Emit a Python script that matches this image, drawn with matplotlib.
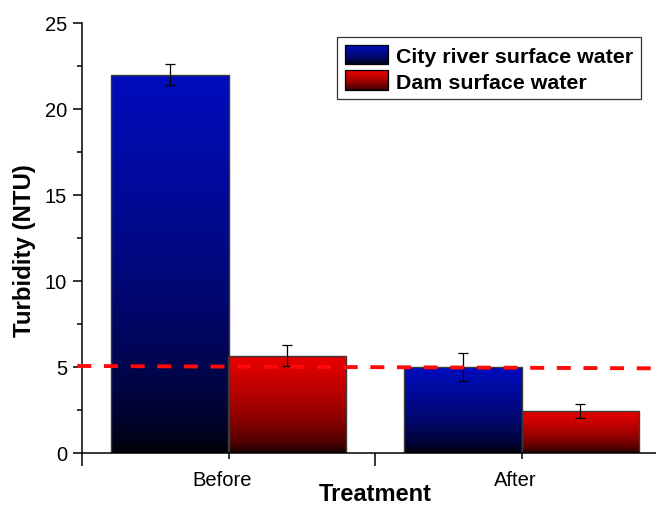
import numpy as np
import matplotlib
matplotlib.use("Agg")
import matplotlib.pyplot as plt
import matplotlib.transforms as mtransforms
from matplotlib.patches import Rectangle, Patch
from matplotlib.legend_handler import HandlerBase

# ---- data -------------------------------------------------------------
categories = ["Before", "After"]
series_names = ["City river surface water", "Dam surface water"]
city_river = [22.0, 5.0]
city_river_err = [0.6, 0.8]
dam = [5.66, 2.42]
dam_err = [0.62, 0.4]
# reference (limit) line drawn across the plot
limit_x = [0.484, 2.5]
limit_y = [5.06, 4.92]
yticks = [0, 5, 10, 15, 20, 25]

# ---- style --------------------------------------------------------------
plt.rcParams["font.family"] = ["Liberation Sans", "DejaVu Sans"]
BLUE = np.array([0, 12, 190]) / 255.0
RED = np.array([234, 0, 0]) / 255.0
GAMMA = {"blue": 0.6, "red": 0.5}


def gradient_rgb(color, gamma, n=256):
    t = np.linspace(0, 1, n)[:, None]
    return (t ** gamma)[:, :, None] * color[None, None, :]


def fill_bars(ax, bars, color, gamma):
    rgb = gradient_rgb(color, gamma)
    for bar in bars:
        x0, y0 = bar.get_xy()
        w, h = bar.get_width(), bar.get_height()
        im = ax.imshow(rgb, extent=[x0, x0 + w, y0, y0 + h], origin="lower",
                       aspect="auto", interpolation="bilinear", zorder=1)
        im.set_clip_path(bar)


class GradientHandler(HandlerBase):
    def __init__(self, color, gamma, n=40):
        super().__init__()
        self.color = color
        self.gamma = gamma
        self.n = n

    def create_artists(self, legend, orig_handle, xdescent, ydescent,
                       width, height, fontsize, trans):
        arts = []
        x0, y0 = -xdescent, -ydescent
        for i in range(self.n):
            t = (i + 0.5) / self.n
            c = self.color * t ** self.gamma
            r = Rectangle((x0, y0 + height * i / self.n), width,
                          height / self.n * 1.1, facecolor=c,
                          edgecolor="none", lw=0, antialiased=False,
                          transform=trans)
            arts.append(r)
        arts.append(Rectangle((x0, y0), width, height, facecolor="none",
                              edgecolor="black", lw=0.9, transform=trans))
        return arts


fig = plt.figure(figsize=(6.56, 5.1), dpi=100)
ax = fig.add_axes([82 / 656, 56 / 510, 586 / 656, 430 / 510])

x = np.arange(1, len(categories) + 1)
width = 0.4

bars_city = ax.bar(x - width / 2, city_river, width, facecolor="none",
                   edgecolor="#3a3a3a", lw=1.0, zorder=2)
bars_dam = ax.bar(x + width / 2, dam, width, facecolor="none",
                  edgecolor="#3a3a3a", lw=1.0, zorder=2)
fill_bars(ax, bars_city, BLUE, GAMMA["blue"])
fill_bars(ax, bars_dam, RED, GAMMA["red"])

ax.errorbar(x - width / 2, city_river, yerr=city_river_err, fmt="none",
            ecolor="black", elinewidth=0.9, capsize=3.3, capthick=0.9, zorder=3)
ax.errorbar(x + width / 2, dam, yerr=dam_err, fmt="none",
            ecolor="black", elinewidth=0.9, capsize=3.3, capthick=0.9, zorder=3)

ax.plot(limit_x, limit_y, color="#ff0a0a", lw=2.8,
        linestyle=(0, (3.6, 3.25)), zorder=4, clip_on=False)

ax.set_xlim(0.5, 2.5)
ax.set_ylim(0, 25)

ax.set_xticks(x)
ax.set_xticklabels(categories)
ax.set_xticks([0.5, 1.5, 2.5], minor=True)
ax.set_yticks(yticks)
ax.set_yticks(np.arange(2.5, 25, 5), minor=True)

ax.tick_params(axis="x", which="major", length=4, width=1.1, pad=8.5,
               labelsize=14.5, direction="out")
ax.tick_params(axis="x", which="minor", length=9, width=1.1, direction="out")
ax.tick_params(axis="y", which="major", length=6.5, width=1.1, pad=4.3,
               labelsize=14.5, direction="out")
ax.tick_params(axis="y", which="minor", length=3.6, width=1.1, direction="out")

# category labels sit a little left of their tick marks
shift = mtransforms.ScaledTranslation(-6 / 100, 0, fig.dpi_scale_trans)
for lbl in ax.get_xticklabels():
    lbl.set_transform(lbl.get_transform() + shift)

for side in ("top", "right"):
    ax.spines[side].set_visible(False)
for side in ("left", "bottom"):
    ax.spines[side].set_linewidth(1.1)

ax.set_xlabel("Treatment", fontsize=17, fontweight="bold")
ax.set_ylabel("Turbidity (NTU)", fontsize=17.3, fontweight="bold")
ax.xaxis.set_label_coords(0.5, -0.068)
ax.yaxis.set_label_coords(-0.079, 0.474)

handles = [Patch(label=series_names[0]), Patch(label=series_names[1])]
leg = ax.legend(handles=handles,
                handler_map={handles[0]: GradientHandler(BLUE, GAMMA["blue"]),
                             handles[1]: GradientHandler(RED, GAMMA["red"])},
                loc="upper right", bbox_to_anchor=(641 / 656, 1 - 38 / 510),
                bbox_transform=fig.transFigure, borderaxespad=0,
                prop={"size": 15.4, "weight": "bold"}, fancybox=False,
                framealpha=1, edgecolor="#333333", handlelength=2.0,
                handleheight=1.03, handletextpad=0.4, borderpad=0.36,
                labelspacing=0.22)
leg.get_frame().set_linewidth(0.9)
leg.set_zorder(5)

fig.savefig("out.png", dpi=100)
